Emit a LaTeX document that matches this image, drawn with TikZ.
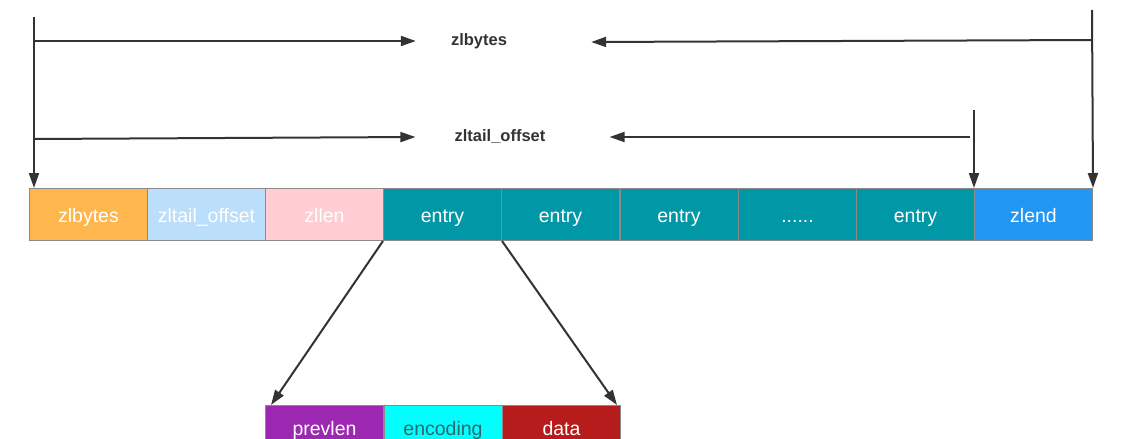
\documentclass[tikz,border=0pt]{standalone}
\usepackage{fontspec}
\setmainfont{Liberation Sans}
\usetikzlibrary{arrows.meta}
\definecolor{cOrange}{HTML}{FFB74D}
\definecolor{cLBlue}{HTML}{BBDEFB}
\definecolor{cPink}{HTML}{FFCDD2}
\definecolor{cTeal}{HTML}{0097A7}
\definecolor{cBlue}{HTML}{2196F3}
\definecolor{cPurple}{HTML}{9C27B0}
\definecolor{cCyan}{HTML}{00FFFF}
\definecolor{cRed}{HTML}{B71C1C}
\definecolor{cBorder}{HTML}{8A8A8A}
\definecolor{cLine}{HTML}{333333}
\definecolor{cEncText}{HTML}{2F6868}
\tikzset{
  cell/.style={draw=cBorder, line width=1pt, minimum width=118pt, minimum height=52pt,
    inner sep=0pt, anchor=north west, text=white, font=\fontsize{19.5}{21}\selectfont,
    text height=16pt, text depth=1pt},
  lowcell/.style={cell, text height=13pt, text depth=6pt},
  lbl/.style={font=\bfseries\fontsize{16.5}{18}\selectfont, text=cLine, inner sep=0pt},
  arr/.style={draw=cLine, line width=2pt, -{Triangle[length=15pt,width=10pt]}},
}
\begin{document}
\begin{tikzpicture}[x=1pt,y=-1pt]
\useasboundingbox (0,0) rectangle (1141,439);
\clip (0,0) rectangle (1141,439);
\fill[white] (0,0) rectangle (1141,439);
% top row
\node[cell, fill=cOrange] (zb) at (29,188) {zlbytes};
\node[cell, fill=cLBlue] (zt) at (147,188) {zltail\_offset};
\node[cell, fill=cPink] (zl) at (265,188) {zllen};
\node[cell, fill=cTeal] (e1) at (383,188) {entry};
\node[cell, fill=cTeal] (e2) at (501,188) {entry};
\node[cell, fill=cTeal] (e3) at (619.5,188) {entry};
\node[cell, fill=cTeal] (e4) at (738,188) {......};
\node[cell, fill=cTeal] (e5) at (856,188) {entry};
\node[cell, fill=cBlue] (ze) at (974,188) {zlend};
% bottom row
\node[lowcell, fill=cPurple] (pv) at (265,405) {prevlen};
\node[lowcell, fill=cCyan, text=cEncText] (en) at (383.5,405) {encoding};
\node[lowcell, fill=cRed] (da) at (502,405) {data};
% labels
\node[lbl] (l1) at (479,41) {zlbytes};
\node[lbl] (l2) at (500,137) {zltail\_offset};
% coordinates
\coordinate (lt) at (34,17);
\coordinate (lb) at (34,188);
\coordinate (h1) at (34,41);
\coordinate (h2) at (34,139);
\coordinate (rt) at (1092,10);
\coordinate (r1) at (1092,40);
\coordinate (mt) at (974,110);
\coordinate (m1) at (970,137);
% arrows
\draw[arr] (lt) -- (lb);
\draw[arr] (h1) -- ([xshift=-35pt]l1.west);
\draw[arr] (h2) -- ([xshift=-39pt]l2.west);
\draw[arr] (rt) -- (ze.north east);
\draw[arr] (r1) -- ([xshift=84pt,yshift=-1pt]l1.east);
\draw[arr] (mt) -- (ze.north west);
\draw[arr] (m1) -- ([xshift=64pt]l2.east);
\draw[arr] (e1.south west) -- ([xshift=6pt]pv.north west);
\draw[arr] (e1.south east) -- ([xshift=-4pt]da.north east);
\end{tikzpicture}
\end{document}
